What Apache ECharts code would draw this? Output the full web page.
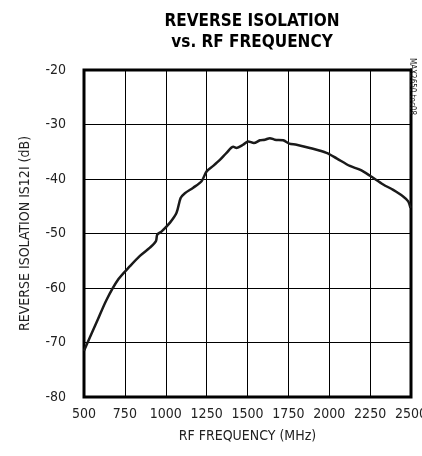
<!DOCTYPE html>
<html><head><meta charset="utf-8">
<script src="https://cdn.jsdelivr.net/npm/echarts@6/dist/echarts.min.js"></script>
<style>html,body{margin:0;padding:0;background:#fff}#c{width:422px;height:456px}</style>
</head><body><div id="c"></div>
<script>
var freqMHz = [500,577,639,710,781,842,903,940,948,975,1026,1066,1091,1117,1168,1219,1250,1290,1331,1372,1413,1433,1474,1504,1539,1576,1606,1637,1667,1718,1755,1800,1881,1983,2045,2126,2187,2249,2330,2391,2452,2483,2497];
var isolationDb = [-71.5,-66.3,-62.1,-58.4,-56.0,-54.1,-52.6,-51.4,-50.2,-49.6,-48.0,-46.2,-43.5,-42.6,-41.6,-40.4,-38.6,-37.6,-36.5,-35.2,-34.1,-34.3,-33.7,-33.1,-33.4,-32.9,-32.8,-32.5,-32.8,-32.9,-33.5,-33.7,-34.3,-35.2,-36.2,-37.6,-38.3,-39.4,-41.0,-42.0,-43.2,-44.1,-45.3];
var xTicks = [500,750,1000,1250,1500,1750,2000,2250,2500];
var yTicks = [-80,-70,-60,-50,-40,-30,-20];

var font = '"Liberation Sans Narrow","DejaVu Sans Condensed",sans-serif';
var chart = echarts.init(document.getElementById('c'));
var pts = freqMHz.map(function(f,i){return [f, isolationDb[i]];});
chart.setOption({
  animation:false,
  title:{text:'REVERSE ISOLATION\nvs. RF FREQUENCY', left:247, top:6, textAlign:'center',
    textStyle:{fontFamily:font, fontWeight:'bold', fontSize:17, lineHeight:21, color:'#000'}},
  grid:{left:84, right:11, top:70, bottom:59, show:true, borderColor:'#000', borderWidth:3,
    backgroundColor:'transparent', containLabel:false, outerBoundsMode:'none'},
  xAxis:{type:'value', min:xTicks[0], max:xTicks[xTicks.length-1], interval:250,
    name:'RF FREQUENCY (MHz)', nameLocation:'middle', nameGap:32,
    nameTextStyle:{fontFamily:font, fontSize:14, color:'#222'},
    axisLine:{show:false}, axisTick:{show:false},
    axisLabel:{fontFamily:font, fontSize:14, color:'#222', margin:10, showMaxLabel:true,
      formatter:function(v){return String(v);}},
    splitLine:{show:true, lineStyle:{color:'#000', width:1}}},
  yAxis:{type:'value', min:yTicks[0], max:yTicks[yTicks.length-1], interval:10,
    name:'REVERSE ISOLATION IS12I (dB)', nameLocation:'middle', nameGap:52, nameRotate:90,
    nameTextStyle:{fontFamily:font, fontSize:14, color:'#222'},
    axisLine:{show:false}, axisTick:{show:false},
    axisLabel:{fontFamily:font, fontSize:14, color:'#222', margin:18,
      formatter:function(v){return String(v);}},
    splitLine:{show:true, lineStyle:{color:'#000', width:1}}},
  graphic:[{type:'text', x:416, y:58, rotation:-Math.PI/2,
    style:{text:'MAX2650 toc08', fontFamily:font, fontSize:8, fill:'#222'}}],
  series:[{type:'line', data:pts, showSymbol:false, smooth:0.3,
    lineStyle:{color:'#1a1a1a', width:2.5}}]
});
</script></body></html>
